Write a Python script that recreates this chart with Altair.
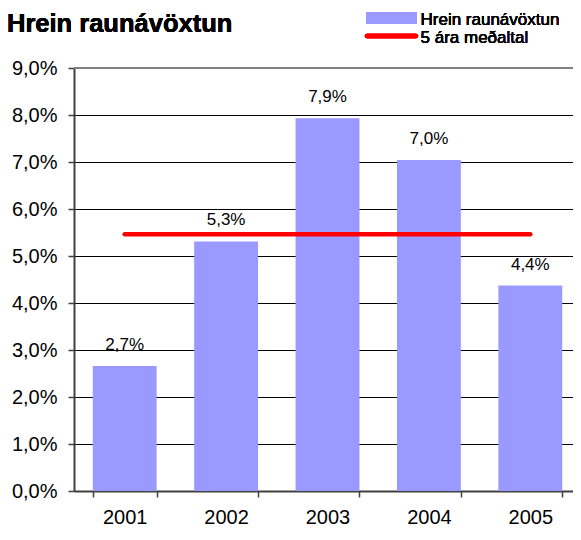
import altair as alt
import pandas as pd

years = ["2001", "2002", "2003", "2004", "2005"]
values = [2.66, 5.31, 7.93, 7.04, 4.37]
title_text = "Hrein raunávöxtun"
legend_bar = "Hrein raunávöxtun"
legend_line = "5 ára meðaltal"
y_ticks = [0, 1, 2, 3, 4, 5, 6, 7, 8, 9]

df = pd.DataFrame({"year": years, "value": values})

FONT = "Liberation Sans"
BAR = "#9999FF"
RED = "#FF0000"

PAD_L, PAD_T = 66, 60

x_enc = alt.X(
    "year:N",
    sort=years,
    scale=alt.Scale(paddingInner=0.37, paddingOuter=0.185),
    axis=alt.Axis(
        title=None, labelAngle=0, labelFontSize=20, labelFont=FONT, labelColor="#000000",
        domainColor="#404040", domainWidth=2, tickColor="#404040", tickWidth=1.5,
        tickSize=6, tickBand="extent", labelPadding=10, grid=False,
    ),
)
y_scale = alt.Scale(domain=[0, 9], nice=False)
y_enc = alt.Y(
    "value:Q",
    scale=y_scale,
    axis=alt.Axis(
        title=None, values=y_ticks, labelFontSize=20, labelFont=FONT, labelColor="#000000",
        labelExpr="replace(format(datum.value, '.1f'), '.', ',') + '%'",
        domainColor="#404040", domainWidth=2, tickColor="#404040", tickWidth=1.5, tickSize=6,
        labelPadding=11, grid=True, gridColor="#000000", gridWidth=1,
    ),
)

base = alt.Chart(df)

bars = base.mark_bar(color=BAR).encode(x=x_enc, y=y_enc)

labels = base.transform_calculate(
    lbl="replace(format(datum.value, '.1f'), '.', ',') + '%'"
).mark_text(
    font=FONT, fontSize=17, color="#000000", baseline="alphabetic", dy=-16
).encode(x=alt.X("year:N", sort=years), y=alt.Y("value:Q", scale=y_scale), text="lbl:N")

avg_line = base.transform_joinaggregate(avg="mean(value)").mark_line(
    color=RED, strokeWidth=4.5, strokeCap="round"
).encode(x=alt.X("year:N", sort=years), y=alt.Y("avg:Q", scale=y_scale))

top_border = alt.Chart(df).mark_rule(color="#808080", strokeWidth=2).encode(
    y=alt.datum(9, scale=y_scale)
)

# legend and title placed relative to the plot origin
ox, oy = 8 + PAD_L, 8 + PAD_T
leg_rect = alt.Chart(df).mark_rect(color=BAR).encode(
    x=alt.value(366 - ox), x2=alt.value(417 - ox), y=alt.value(12 - oy), y2=alt.value(24 - oy)
)
leg_rule = alt.Chart(df).mark_rule(color=RED, strokeWidth=4.5, strokeCap="round").encode(
    x=alt.value(367 - ox), x2=alt.value(416 - ox), y=alt.value(36 - oy)
)
leg_text1 = alt.Chart(df).mark_text(
    text=legend_bar, font=FONT, fontSize=17, align="left", baseline="alphabetic", color="#000000"
).encode(x=alt.value(420.5 - ox), y=alt.value(25 - oy))
leg_text2 = alt.Chart(df).mark_text(
    text=legend_line, font=FONT, fontSize=17, align="left", baseline="alphabetic", color="#000000"
).encode(x=alt.value(420.5 - ox), y=alt.value(43 - oy))

title = alt.Chart(df).mark_text(
    text=title_text, font=FONT, fontSize=25.5, fontWeight="bold", align="left",
    baseline="alphabetic", color="#000000"
).encode(x=alt.value(7 - ox), y=alt.value(32 - oy))

chart = alt.layer(
    bars, top_border, avg_line, labels, leg_rect, leg_rule, leg_text1, leg_text2, title
).properties(
    width=507, height=423,
    autosize=alt.AutoSizeParams(type="none"),
    padding={"left": PAD_L, "top": PAD_T, "right": -8, "bottom": 37},
).configure_view(stroke=None).configure(background="#FFFFFF")

chart.save("out.html", embed_options={"renderer": "svg", "actions": False})
